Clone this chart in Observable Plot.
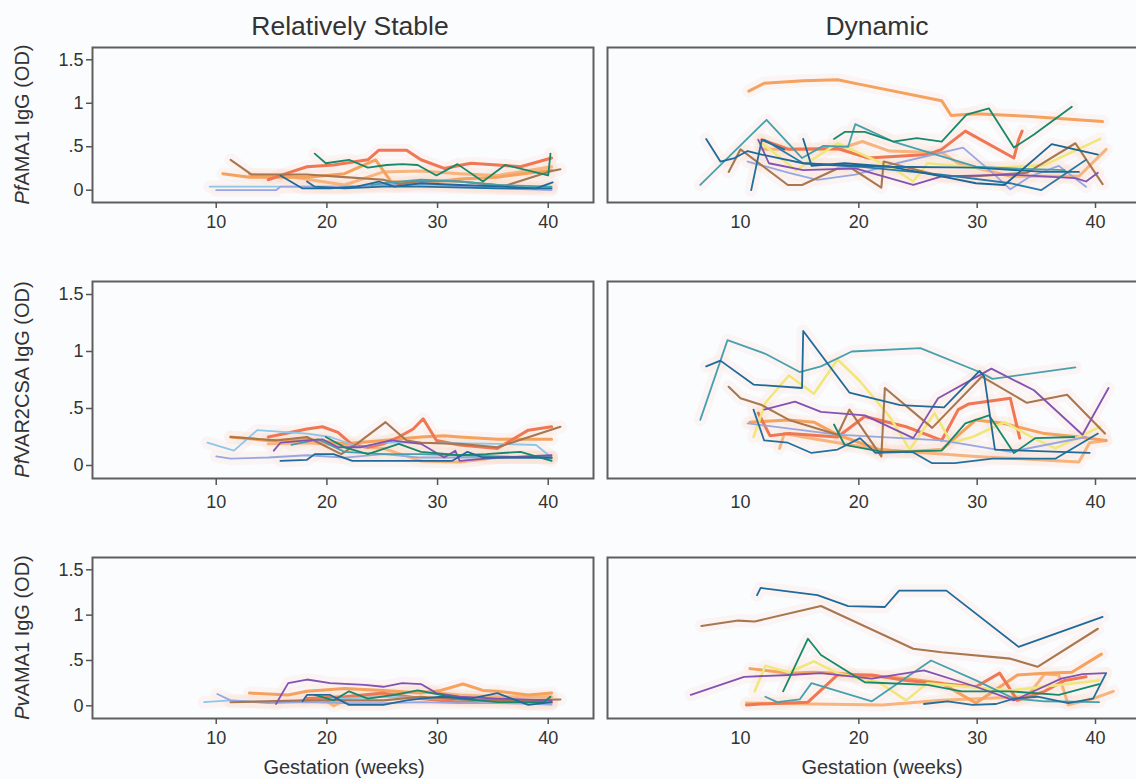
<!DOCTYPE html>
<html><head><meta charset="utf-8">
<script src="https://cdn.jsdelivr.net/npm/d3@7"></script>
<script src="https://cdn.jsdelivr.net/npm/@observablehq/plot@0.6"></script>
<style>
html,body{margin:0;padding:0;background:#fbfcfe;overflow:hidden}
#chart{position:relative;width:1136px;height:779px;overflow:hidden;font-family:"Liberation Sans",Arial,Helvetica,sans-serif;color:#333}
#chart svg{position:absolute;overflow:visible}
</style></head>
<body><div id="chart"></div>
<script>
// ---------- tick values / labels ----------
const yTicks = [0, 0.5, 1, 1.5];
const yTickLabels = ["0", ".5", "1", "1.5"];
const xTicks = [10, 20, 30, 40];
const colTitles = ["Relatively Stable", "Dynamic"];
const rowLabels = [["Pf", "AMA1 IgG (OD)"], ["Pf", "VAR2CSA IgG (OD)"], ["Pv", "AMA1 IgG (OD)"]];
const xTitle = "Gestation (weeks)";

// ---------- PfAMA1, relatively stable ----------
const pfAma1Stable_brown = [[11.3,0.35],[13.2,0.18],[18.2,0.18],[21.6,0.15],[25.1,0.12],[26.5,0.07],[28.5,0.11],[32,0.10],[36.1,0.05],[40.3,0.22],[41.1,0.24]];
const pfAma1Stable_green = [[18.9,0.42],[19.9,0.31],[22,0.35],[23.7,0.26],[25.4,0.29],[26.8,0.30],[28.2,0.29],[29.9,0.17],[31.8,0.30],[34.1,0.10],[36.1,0.29],[40,0.17],[40.2,0.42]];
const pfAma1Stable_salmon = [[14.7,0.12],[16.5,0.20],[18.2,0.27],[20.6,0.29],[23.7,0.35],[24.7,0.46],[27.2,0.46],[28.5,0.35],[30.6,0.25],[33,0.31],[35.4,0.29],[37.5,0.27],[40.3,0.37]];
const pfAma1Stable_orange = [[10.6,0.19],[13,0.15],[18.2,0.15],[21.6,0.19],[24.4,0.35],[25.8,0.10],[28.5,0.08],[32,0.13],[35.4,0.15],[40.3,0.23]];
const pfAma1Stable_lightorange = [[13,0.18],[16,0.17],[21.6,0.06],[25.1,0.21],[28.5,0.22],[32,0.19],[35.4,0.17],[40.3,0.27]];
const pfAma1Stable_blue = [[15.8,0.17],[17.8,0.02],[20.3,0.02],[22.7,0.04],[24.7,0.10],[26.1,0.04],[28.5,0.08],[32,0.06],[36.1,0.04],[38.9,0.02],[40.4,0.09]];
const pfAma1Stable_blue2 = [[18.2,0.10],[18.9,0.04],[21.6,0.02],[25.1,0.04],[28.5,0.04],[35.4,0.02],[40.3,0.02]];
const pfAma1Stable_lightblue = [[9.4,0.04],[14.7,0.04],[21.6,0.04],[28.5,0.06],[35.4,0.04],[40.3,0.03]];
const pfAma1Stable_lavender = [[10,0.0],[15.4,0.0],[15.8,0.04],[21.6,0.04],[25.1,0.06],[28.5,0.08],[32,0.04],[40.3,0.0]];
const pfAma1Stable_teal = [[24,0.06],[25.1,0.08],[28.5,0.12],[32,0.10],[35.4,0.06],[40.3,0.04]];

// ---------- PfAMA1, dynamic ----------
const pfAma1Dyn_orange = [[10.7,1.14],[12,1.23],[15.3,1.26],[18.2,1.27],[20,1.22],[27,1.03],[27.8,0.86],[29.9,0.88],[34.2,0.85],[40.6,0.79]];
const pfAma1Dyn_green = [[17.9,0.59],[18.8,0.67],[20.5,0.67],[22.9,0.56],[24.9,0.60],[27,0.56],[29.1,0.87],[31,0.94],[33.1,0.49],[34.8,0.64],[38,0.96]];
const pfAma1Dyn_teal = [[6.6,0.06],[12.2,0.81],[15.2,0.37],[17,0.51],[19.1,0.50],[19.7,0.76],[22.9,0.56],[27,0.39],[29.9,0.27],[33,0.25],[37.4,0.23]];
const pfAma1Dyn_salmon = [[11.8,0.58],[14.1,0.47],[18.2,0.48],[20.8,0.37],[25.8,0.41],[27,0.47],[29,0.68],[33.1,0.37],[33.5,0.58],[33.8,0.68]];
const pfAma1Dyn_lightorange = [[11.8,0.47],[18.2,0.47],[20.3,0.56],[22.6,0.45],[27,0.43],[28.4,0.31],[32.8,0.16],[38.6,0.16],[40.9,0.47]];
const pfAma1Dyn_blue = [[7.1,0.59],[8.3,0.33],[9.5,0.37],[10.6,0.45],[11.8,0.41],[15.3,0.31],[18.2,0.29],[22.6,0.27],[29.9,0.26],[35.7,0.21],[38.6,0.21]];
const pfAma1Dyn_blue2 = [[10.9,0.0],[11.8,0.58],[13.7,0.47]];
const pfAma1Dyn_blue3 = [[15.3,0.59],[16,0.28],[18.8,0.31],[22.6,0.27],[27,0.16],[29.9,0.08],[32.3,0.06],[36.3,0.53],[40.2,0.41]];
const pfAma1Dyn_blue4 = [[12,0.58],[15.3,0.31],[20,0.27],[27,0.18],[32.8,0.08],[35.4,0.0],[39.2,0.35]];
const pfAma1Dyn_brown = [[9,0.21],[10,0.47],[14,0.06],[15.2,0.06],[18.2,0.25],[19.4,0.25],[21.9,0.03],[22.1,0.33],[27,0.16],[29.9,0.16],[34.2,0.20],[38.3,0.54],[40.6,0.07]];
const pfAma1Dyn_yellow = [[11.8,0.54],[14.7,0.23],[18.2,0.54],[22.9,0.25],[24.6,0.10],[25.8,0.31],[30.7,0.25],[35.7,0.29],[40.4,0.59]];
const pfAma1Dyn_lavender = [[10.6,0.33],[14.1,0.20],[16.5,0.12],[19.7,0.18],[23.2,0.31],[28.8,0.49],[31.3,0.20],[32.8,0.01],[34.5,0.16],[36.9,0.28],[39.2,0.04]];
const pfAma1Dyn_purple = [[11.5,0.58],[12.4,0.31],[15.3,0.23],[19.7,0.25],[24.6,0.06],[27,0.16],[32.8,0.18],[38.3,0.14],[39.2,0.10],[40.2,0.20]];

// ---------- PfVAR2CSA, relatively stable ----------
const var2Stable_salmon = [[14.7,0.25],[18.2,0.32],[19.6,0.34],[21,0.29],[22.3,0.18],[23.7,0.16],[25.1,0.19],[26.5,0.25],[27.8,0.32],[28.7,0.41],[29.9,0.22],[32,0.18],[35.4,0.15],[38.2,0.31],[40.3,0.34]];
const var2Stable_brown = [[11.3,0.25],[15.4,0.22],[18.2,0.25],[21.3,0.10],[22.7,0.19],[25.3,0.38],[27.2,0.22],[28.5,0.20],[32,0.19],[35.4,0.16],[41.1,0.34]];
const var2Stable_orange = [[11.3,0.25],[14.7,0.22],[18.2,0.23],[21.6,0.19],[25.1,0.22],[28.5,0.25],[30.6,0.26],[32,0.25],[35.4,0.23],[40.3,0.23]];
const var2Stable_lightorange = [[14.7,0.19],[18.2,0.20],[21.6,0.18],[25.1,0.15],[28.5,0.04],[32,0.03],[35.4,0.07],[40.3,0.07]];
const var2Stable_lightblue = [[9.2,0.20],[11.6,0.13],[13.7,0.31],[18.2,0.28],[20.3,0.25],[23,0.16],[25.1,0.20],[28.5,0.20],[35.4,0.19],[38.9,0.18],[40.3,0.07]];
const var2Stable_purple = [[15.2,0.13],[15.8,0.20],[18.2,0.22],[19.6,0.23],[21,0.16],[23,0.16],[25.8,0.22],[28.5,0.19],[30.6,0.07],[31.6,0.13],[32,0.04],[35.4,0.07],[40.3,0.09]];
const var2Stable_green = [[19.9,0.25],[21.6,0.16],[23.7,0.10],[26.5,0.19],[28.5,0.12],[32,0.09],[34.4,0.10],[37.5,0.12],[40.3,0.04]];
const var2Stable_blue = [[15.8,0.04],[18.2,0.05],[18.9,0.10],[20.6,0.10],[22.3,0.04],[31.3,0.04],[32.7,0.12],[34.1,0.07],[40.3,0.07]];
const var2Stable_lavender = [[10,0.08],[11.3,0.06],[14.7,0.07],[18.2,0.09],[21.6,0.07],[25.1,0.10],[28.5,0.07],[32,0.07],[40.3,0.07]];
const var2Stable_teal = [[16.8,0.18],[19.2,0.23],[21.6,0.12],[25.1,0.10],[28.5,0.10],[32,0.09],[35.4,0.08],[38.9,0.07],[40.3,0.06]];

// ---------- PfVAR2CSA, dynamic ----------
const var2Dyn_teal = [[6.6,0.40],[8.9,1.10],[12.1,0.98],[15,0.82],[16.8,0.87],[19.4,1.00],[25.2,1.03],[30.2,0.82],[31.3,0.76],[38.3,0.86]];
const var2Dyn_blue = [[7.1,0.87],[8.3,0.92],[11.1,0.71],[15.2,0.68],[15.3,1.18],[19.2,0.64],[23.5,0.53],[27.2,0.51],[30.2,0.83],[30.6,0.78],[31.5,0.14],[39.5,0.11]];
const var2Dyn_yellow = [[11.1,0.25],[12.1,0.55],[14.1,0.79],[16.2,0.63],[18.2,0.93],[20,0.75],[22.6,0.43],[24.3,0.14],[26.4,0.46],[27.8,0.20],[29.6,0.25],[32.3,0.38],[34.6,0.25],[36.6,0.15],[40.4,0.34]];
const var2Dyn_purple = [[12,0.49],[14.6,0.56],[16.8,0.47],[20.5,0.44],[24.6,0.24],[26.7,0.59],[31.2,0.85],[34.8,0.66],[38.9,0.27],[41.1,0.68]];
const var2Dyn_brown = [[9,0.69],[10,0.59],[11.8,0.53],[14.1,0.40],[18.2,0.27],[19.2,0.49],[21.9,0.08],[22.2,0.68],[26.2,0.33],[30.4,0.78],[34.2,0.55],[37.6,0.62],[40.8,0.28]];
const var2Dyn_salmon = [[11.5,0.46],[12.5,0.26],[14.1,0.28],[18.2,0.25],[20.5,0.43],[24,0.34],[27,0.22],[28.4,0.49],[29.3,0.54],[32.8,0.59],[33.6,0.24]];
const var2Dyn_orange = [[10.8,0.38],[14.1,0.40],[16.2,0.38],[18.2,0.27],[21.7,0.14],[24,0.12],[27,0.14],[29.9,0.40],[32.2,0.37],[35.7,0.28],[38.6,0.25],[40.9,0.22]];
const var2Dyn_lightorange = [[13.3,0.15],[13.7,0.28],[15.3,0.25],[18.2,0.20],[21.7,0.14],[29.9,0.08],[38.6,0.03],[39.5,0.20],[40.9,0.22]];
const var2Dyn_blue2 = [[11.1,0.49],[12,0.22],[14,0.20],[16,0.11],[18.2,0.14],[20.1,0.24],[21.4,0.11],[24.5,0.12],[26.2,0.02],[28.1,0.02],[31.3,0.06],[36.6,0.06],[40.2,0.28]];
const var2Dyn_green = [[17.9,0.36],[18.8,0.18],[22,0.12],[27,0.13],[29,0.37],[31,0.44],[33.1,0.11],[34.9,0.24],[38.2,0.25]];
const var2Dyn_lavender = [[10.6,0.37],[18.2,0.27],[27,0.22],[32.8,0.12],[39.2,0.25]];

// ---------- PvAMA1, relatively stable ----------
const pvAma1Stable_purple = [[15.4,0.02],[16.5,0.25],[18.2,0.29],[20.3,0.25],[23.4,0.23],[25.1,0.21],[26.8,0.25],[28.5,0.24],[29.9,0.14],[32,0.10],[35.4,0.08],[40.3,0.06]];
const pvAma1Stable_orange = [[13,0.14],[16.5,0.12],[18.2,0.16],[21.6,0.19],[25.1,0.17],[28.5,0.14],[30.3,0.17],[32.3,0.24],[34.1,0.17],[35.4,0.16],[38.2,0.12],[40.3,0.14]];
const pvAma1Stable_salmon = [[18.2,0.08],[21.6,0.10],[25.1,0.14],[28.5,0.08],[32,0.04],[35.4,0.06],[40.3,0.04]];
const pvAma1Stable_blue = [[17.8,0.05],[18.2,0.12],[20.3,0.12],[22,0.01],[25.1,0.01],[27.2,0.06],[28.5,0.08],[30.3,0.10],[33,0.08],[35.4,0.14],[38.2,0.01],[40.3,0.04]];
const pvAma1Stable_green = [[18.9,0.12],[20.6,0.06],[22,0.16],[23.7,0.08],[26.1,0.12],[28.2,0.17],[30.3,0.12],[32,0.08],[35.4,0.04],[39.6,0.04],[40.2,0.10]];
const pvAma1Stable_lightblue = [[8.9,0.04],[11.3,0.06],[14.7,0.04],[18.2,0.06],[25.1,0.10],[32,0.07],[40.3,0.01]];
const pvAma1Stable_lavender = [[10.1,0.13],[11.3,0.06],[14.7,0.03],[18.2,0.04],[21.6,0.03],[25.1,0.03],[28.5,0.04],[32,0.03],[35.4,0.03],[40.3,0.02]];
const pvAma1Stable_brown = [[11.3,0.04],[18.2,0.06],[25.1,0.06],[28.5,0.10],[32,0.07],[35.4,0.06],[41.1,0.07]];
const pvAma1Stable_lightorange = [[19.9,0.06],[20.6,0.0],[22.3,0.10],[25.1,0.12],[28.5,0.16],[32,0.12],[35.4,0.10],[40.3,0.10]];

// ---------- PvAMA1, dynamic ----------
const pvAma1Dyn_blue = [[11.4,1.22],[11.7,1.30],[16.5,1.22],[19.1,1.10],[22.2,1.09],[23.4,1.27],[27.4,1.27],[33.5,0.65],[40.6,0.98]];
const pvAma1Dyn_brown = [[6.7,0.88],[9.8,0.94],[11.2,0.93],[16.8,1.10],[24.6,0.63],[27,0.59],[32.8,0.52],[35.1,0.43],[40.2,0.85]];
const pvAma1Dyn_green = [[13.6,0.16],[15.7,0.74],[16.8,0.56],[20.5,0.26],[25.8,0.23],[28.7,0.16],[32.8,0.16],[36.9,0.12],[40.3,0.24]];
const pvAma1Dyn_yellow = [[11.2,0.16],[12.1,0.44],[14.1,0.37],[16.2,0.49],[18.2,0.36],[21.7,0.26],[24,0.06],[25.8,0.25],[32.8,0.17],[40.3,0.28]];
const pvAma1Dyn_purple = [[5.8,0.12],[10.3,0.32],[14.1,0.34],[16.8,0.36],[21.1,0.30],[25.5,0.39],[29.9,0.21],[33.1,0.06],[37.1,0.30],[38.9,0.35],[40.8,0.36]];
const pvAma1Dyn_teal = [[12.1,0.10],[13.1,0.04],[15,0.07],[16,0.25],[21.1,0.05],[26.1,0.50],[29.9,0.28],[33.1,0.08],[35.7,0.05],[40.3,0.04]];
const pvAma1Dyn_salmon = [[10.5,0.01],[11.7,0.02],[15.7,0.04],[18.2,0.34],[21.1,0.34],[24,0.28],[29.9,0.21],[31.9,0.36],[33.4,0.06],[35.7,0.16],[37.4,0.28],[39.2,0.32]];
const pvAma1Dyn_orange = [[10.8,0.41],[14.1,0.36],[16.2,0.37],[18.2,0.36],[24,0.30],[27,0.25],[29.9,0.03],[33.4,0.34],[35.7,0.36],[38,0.37],[40.5,0.57]];
const pvAma1Dyn_lightorange = [[10.5,0.03],[22,0.01],[27,0.06],[34.2,0.10],[35.7,0.35],[36.9,0.34],[37.7,0.01],[39.8,0.08],[41.5,0.16]];
const pvAma1Dyn_blue2 = [[25.5,0.02],[27.5,0.05],[29.6,0.01],[31.6,0.02],[33.1,0.08],[35.1,0.10],[37.7,0.03],[39.8,0.08],[40.9,0.36]];

// ---------- styling ----------
const palette = {
  blue:"#1f6a9a", blue2:"#23709f", blue3:"#1d6594", blue4:"#2a7aa8",
  teal:"#46a1ac", green:"#16896a", orange:"#f4a25e", lightorange:"#f7b47c",
  salmon:"#ef7754", brown:"#a9774f", purple:"#8352b2", yellow:"#efe77a",
  lavender:"#98a6e2", lightblue:"#8cc7ea"
};
const widths = {orange:3, lightorange:3, salmon:3, yellow:2.5, brown:2.1};
const drawOrder = ["lightorange","orange","salmon","yellow","lightblue","lavender","brown","teal","purple","green","blue4","blue3","blue2","blue"];

const panels = [
  {row:0,col:0,series:{brown:pfAma1Stable_brown,green:pfAma1Stable_green,salmon:pfAma1Stable_salmon,orange:pfAma1Stable_orange,lightorange:pfAma1Stable_lightorange,blue:pfAma1Stable_blue,blue2:pfAma1Stable_blue2,lightblue:pfAma1Stable_lightblue,lavender:pfAma1Stable_lavender,teal:pfAma1Stable_teal}},
  {row:0,col:1,series:{orange:pfAma1Dyn_orange,green:pfAma1Dyn_green,teal:pfAma1Dyn_teal,salmon:pfAma1Dyn_salmon,lightorange:pfAma1Dyn_lightorange,blue:pfAma1Dyn_blue,blue2:pfAma1Dyn_blue2,blue3:pfAma1Dyn_blue3,blue4:pfAma1Dyn_blue4,brown:pfAma1Dyn_brown,yellow:pfAma1Dyn_yellow,lavender:pfAma1Dyn_lavender,purple:pfAma1Dyn_purple}},
  {row:1,col:0,series:{salmon:var2Stable_salmon,brown:var2Stable_brown,orange:var2Stable_orange,lightorange:var2Stable_lightorange,lightblue:var2Stable_lightblue,purple:var2Stable_purple,green:var2Stable_green,blue:var2Stable_blue,lavender:var2Stable_lavender,teal:var2Stable_teal}},
  {row:1,col:1,series:{teal:var2Dyn_teal,blue:var2Dyn_blue,yellow:var2Dyn_yellow,purple:var2Dyn_purple,brown:var2Dyn_brown,salmon:var2Dyn_salmon,orange:var2Dyn_orange,lightorange:var2Dyn_lightorange,blue2:var2Dyn_blue2,green:var2Dyn_green,lavender:var2Dyn_lavender}},
  {row:2,col:0,series:{purple:pvAma1Stable_purple,orange:pvAma1Stable_orange,salmon:pvAma1Stable_salmon,blue:pvAma1Stable_blue,green:pvAma1Stable_green,lightblue:pvAma1Stable_lightblue,lavender:pvAma1Stable_lavender,brown:pvAma1Stable_brown,lightorange:pvAma1Stable_lightorange}},
  {row:2,col:1,series:{blue:pvAma1Dyn_blue,brown:pvAma1Dyn_brown,green:pvAma1Dyn_green,yellow:pvAma1Dyn_yellow,purple:pvAma1Dyn_purple,teal:pvAma1Dyn_teal,salmon:pvAma1Dyn_salmon,orange:pvAma1Dyn_orange,lightorange:pvAma1Dyn_lightorange,blue2:pvAma1Dyn_blue2}}
];

// ---------- layout ----------
const cols = [{x0:92, x1:593, domain:[-1.18, 44.09]}, {x0:607, x1:1144, domain:[-1.24, 44.14]}];
const rows = [
  {y0:47, y1:202, domain:[-0.1415, 1.6415], tick:6, pad:7},
  {y0:281, y1:478, domain:[-0.114, 1.614], tick:7, pad:10},
  {y0:557, y1:718, domain:[-0.140, 1.6357], tick:6, pad:7}
];

const chart = document.getElementById("chart");
const fmtY = d => yTickLabels[yTicks.indexOf(d)];

for (const p of panels) {
  const c = cols[p.col], r = rows[p.row];
  const ml = p.col === 0 ? c.x0 : 2, mr = 2, mt = 2, mb = 40;
  const w = c.x1 - c.x0, h = r.y1 - r.y0;
  const names = drawOrder.filter(n => p.series[n]);
  const marks = [];
  for (const n of names) {
    marks.push(Plot.line(p.series[n], {x: d => d[0], y: d => d[1], stroke: "#fbdccf", strokeWidth: 13, strokeOpacity: 0.2, strokeLinejoin: "round", strokeLinecap: "round"}));
  }
  for (const n of names) {
    marks.push(Plot.line(p.series[n], {x: d => d[0], y: d => d[1], stroke: palette[n], strokeWidth: widths[n] || 1.8, strokeLinejoin: "round"}));
  }
  marks.push(Plot.frame({stroke: "#5e5e5e", strokeWidth: 2}));
  if (p.col === 0) {
    marks.push(Plot.axisY({ticks: yTicks, tickFormat: fmtY, tickSize: 6, tickPadding: 3, label: null, stroke: "#555", strokeWidth: 1.5, fill: "#333"}));
    marks.push(Plot.axisX({ticks: xTicks, tickSize: r.tick, tickPadding: r.pad, label: null, stroke: "#555", strokeWidth: 1.5, fill: "#333"}));
  } else {
    marks.push(Plot.axisX({ticks: xTicks.slice(1), tickSize: r.tick, tickFormat: null, text: null, label: null, stroke: "#555", strokeWidth: 1.5}));
    marks.push(Plot.axisX({ticks: xTicks, tickSize: 0, tickPadding: r.tick + r.pad, label: null, fill: "#333"}));
  }
  const svg = Plot.plot({
    width: ml + w + mr, height: mt + h + mb,
    marginLeft: ml, marginRight: mr, marginTop: mt, marginBottom: mb,
    x: {domain: c.domain, axis: null},
    y: {domain: r.domain, axis: null},
    style: {background: "transparent", color: "#333", fontFamily: "'Liberation Sans', Arial, Helvetica, sans-serif", fontSize: "18px", overflow: "visible"},
    marks
  });
  svg.style.left = (c.x0 - ml) + "px";
  svg.style.top = (r.y0 - mt) + "px";
  chart.appendChild(svg);
}

// ---------- overlay texts ----------
const ov = d3.select(chart).append("svg").attr("width", 1136).attr("height", 779)
  .style("left", "0px").style("top", "0px")
  .style("font-family", "'Liberation Sans', Arial, Helvetica, sans-serif");
const titleX = [350, 877];
colTitles.forEach((t, i) => ov.append("text").attr("x", titleX[i]).attr("y", 35).attr("text-anchor", "middle").attr("font-size", 26.5).attr("fill", "#333").text(t));
rowLabels.forEach((lab, i) => {
  const cy = (rows[i].y0 + rows[i].y1) / 2;
  const t = ov.append("text").attr("transform", `translate(29,${cy}) rotate(-90)`).attr("text-anchor", "middle").attr("font-size", 20).attr("fill", "#333");
  t.append("tspan").attr("font-style", "italic").text(lab[0]);
  t.append("tspan").text(lab[1]);
});
const xTitleX = [344, 882];
xTitleX.forEach(x => ov.append("text").attr("x", x).attr("y", 774).attr("text-anchor", "middle").attr("font-size", 20).attr("fill", "#333").text(xTitle));
</script>
</body></html>
